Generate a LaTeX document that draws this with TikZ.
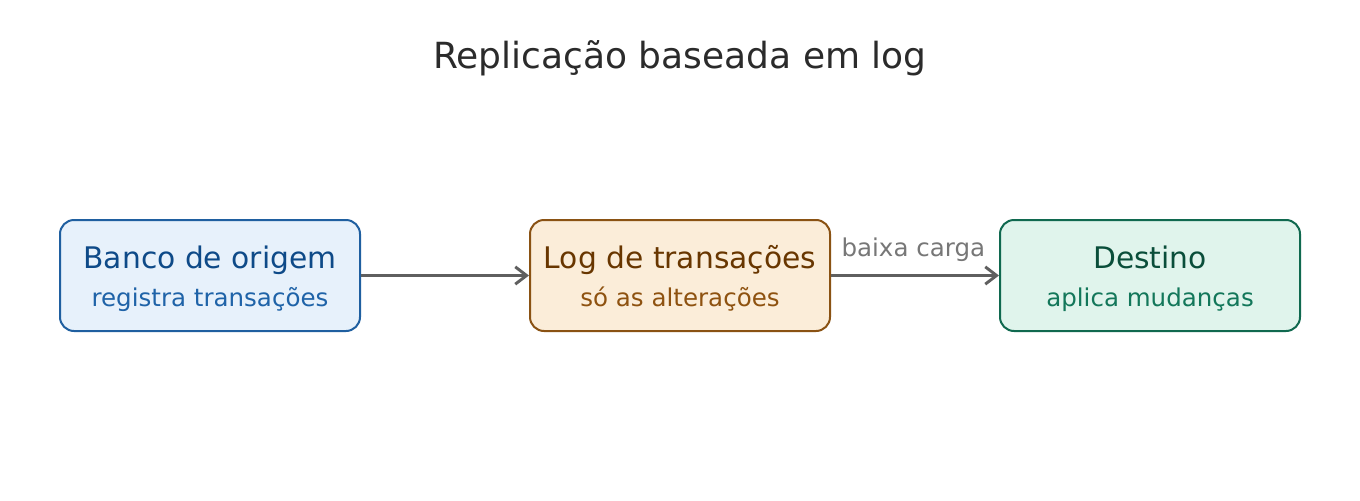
\documentclass[tikz,border=0pt]{standalone}
\usepackage{fontspec}
\setmainfont{DejaVu Sans}
\usetikzlibrary{arrows.meta}
\definecolor{titlec}{HTML}{2B2B2B}
\definecolor{bfill}{HTML}{E7F1FB}
\definecolor{bline}{HTML}{1F5FA0}
\definecolor{btext}{HTML}{0E4A88}
\definecolor{bsub}{HTML}{1F63A8}
\definecolor{ofill}{HTML}{FBEDD9}
\definecolor{oline}{HTML}{8A5213}
\definecolor{otext}{HTML}{683600}
\definecolor{osub}{HTML}{8E5210}
\definecolor{gfill}{HTML}{E0F4EC}
\definecolor{gline}{HTML}{10694F}
\definecolor{gtext}{HTML}{0A4E3A}
\definecolor{gsub}{HTML}{13775A}
\definecolor{arrc}{HTML}{5F5F5F}
\definecolor{labc}{HTML}{777777}
\tikzset{
  box/.style={draw, line width=1.5pt, rounded corners=10.5pt, minimum width=225pt, minimum height=83.25pt, inner sep=0pt},
  maintxt/.style={anchor=base, inner sep=0pt, font=\fontsize{22.3}{26}\selectfont},
  subtxt/.style={anchor=base, inner sep=0pt, font=\fontsize{18.4}{22}\selectfont},
  conn/.style={draw=arrc, line width=2.2pt, -{Straight Barb[length=8.5pt,width=13pt,line width=2.2pt]}},
}
\begin{document}
\begin{tikzpicture}[x=0.75pt,y=-0.75pt]
\useasboundingbox (0,0) rectangle (1360,500);
\node[anchor=base, inner sep=0pt, text=titlec, font=\fontsize{27}{32}\selectfont] (title) at (680,68) {Replicação baseada em log};
\node[box, fill=bfill, draw=bline] (a) at (210,275.5) {};
\node[box, fill=ofill, draw=oline] (b) at (680,275.5) {};
\node[box, fill=gfill, draw=gline] (c) at (1150,275.5) {};
\node[maintxt, text=btext] (at) at (210,268) {Banco de origem};
\node[subtxt, text=bsub] (as) at (210,306) {registra transações};
\node[maintxt, text=otext] (bt) at (680,268) {Log de transações};
\node[subtxt, text=osub] (bs) at (680,306) {só as alterações};
\node[maintxt, text=gtext] (ct) at (1150,268) {Destino};
\node[subtxt, text=gsub] (cs) at (1150,306) {aplica mudanças};
\draw[conn] (a.east) -- (b.west);
\draw[conn] (b.east) -- node[pos=0.49, anchor=base, inner sep=0pt, yshift=14.5pt, text=labc, font=\fontsize{18.4}{22}\selectfont] (lab) {baixa carga} (c.west);
\end{tikzpicture}
\end{document}
